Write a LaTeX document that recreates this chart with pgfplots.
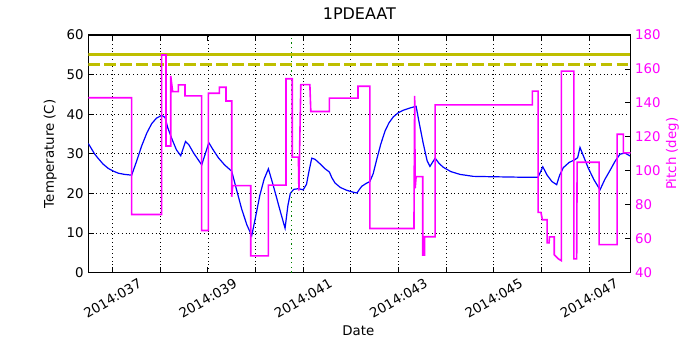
\documentclass[border=0pt]{standalone}
\usepackage{pgfplots}
\pgfplotsset{compat=1.18}
\usepackage{fontspec}
\setmainfont{DejaVu Sans}
\definecolor{mplblue}{rgb}{0,0,1}
\definecolor{mplmag}{rgb}{1,0,1}
\definecolor{mplyel}{rgb}{0.75,0.75,0}
\definecolor{mplgreen}{rgb}{0,0.5,0}

\pgfplotsset{
  common/.style={
    scale only axis, width=406.5pt, height=178.1pt,
    xmin=36.49, xmax=47.87,
    tick align=inside,
    major tick length=4.5pt,
    axis line style={line width=0.8pt},
    every tick/.style={black, line width=0.6pt},
    /pgf/number format/assume math mode=true,
    tick label style={font=\fontsize{10}{12}\selectfont},
    label style={font=\fontsize{10}{12}\selectfont},
  }
}

\begin{document}
\begin{tikzpicture}
\useasboundingbox (-66.2pt,-58.1pt) rectangle (458.6pt,204.35pt);

% temperature (left axis)
\begin{axis}[common,
  ymin=0, ymax=60, ytick={0,10,...,60},
  xtick={37,...,47},
  xticklabels={2014:037,,2014:039,,2014:041,,2014:043,,2014:045,,2014:047},
  xtick pos=both, ytick pos=left,
  grid=major,
  grid style={black, line width=0.5pt, dash pattern=on 0.6pt off 2.2pt},
  xticklabel style={rotate=30, anchor=center},
  xticklabel shift=19.3pt,
  xlabel={Date},
  xlabel style={at={(axis description cs:0.498,-0.246)}, anchor=center},
  ylabel={Temperature (C)},
  ylabel style={at={(axis description cs:-0.0701,0.5)}, anchor=center},
  title={\fontsize{12}{14}\selectfont 1PDEAAT},
  title style={at={(axis description cs:0.5,1.0547)}, anchor=center},
]
\addplot[mplblue, line width=0.9pt] coordinates {
(36.49,32.6) (36.55,31.4) (36.62,30.0) (36.70,28.8) (36.80,27.4) (36.91,26.3)
(37.02,25.6) (37.12,25.1) (37.25,24.8) (37.40,24.6)
(37.50,28.0) (37.61,32.0) (37.72,35.3) (37.82,37.6) (37.92,39.0) (38.03,39.7)
(38.10,39.2) (38.16,36.5) (38.25,33.6) (38.34,31.0) (38.43,29.5) (38.53,33.1)
(38.60,32.3) (38.70,30.2) (38.87,27.2) (39.02,32.8) (39.10,31.2) (39.22,29.0)
(39.35,27.2) (39.50,25.6) (39.60,21.0) (39.71,16.0) (39.82,12.0) (39.92,9.3)
(40.00,14.0) (40.09,19.5) (40.18,23.6) (40.27,26.2) (40.36,22.5) (40.44,19.0)
(40.53,15.0) (40.62,11.2) (40.68,17.0) (40.73,20.0) (40.80,21.0) (40.90,21.2)
(41.00,20.9) (41.07,22.3) (41.12,25.5) (41.18,28.9) (41.25,28.6) (41.35,27.5)
(41.45,26.3) (41.55,25.4) (41.60,24.0) (41.67,22.6) (41.78,21.5) (41.91,20.8)
(42.05,20.3) (42.13,20.1) (42.18,21.0) (42.23,21.8) (42.32,22.5) (42.40,23.0)
(42.47,25.0) (42.54,28.4) (42.63,32.5) (42.72,35.8) (42.80,37.8) (42.89,39.3)
(43.00,40.4) (43.10,41.0) (43.25,41.6) (43.37,42.0) (43.44,37.5) (43.52,32.6)
(43.60,28.3) (43.66,26.8) (43.77,28.9) (43.85,27.6) (43.94,26.6) (44.10,25.5)
(44.29,24.8) (44.57,24.3) (45.00,24.2) (45.50,24.1) (45.93,24.1) (46.03,26.7)
(46.12,24.6) (46.22,23.0) (46.32,22.2) (46.38,24.5) (46.46,26.5) (46.58,27.8)
(46.70,28.5) (46.76,29.0) (46.81,31.6) (46.88,29.5) (46.98,26.5) (47.10,23.5)
(47.23,20.9) (47.33,23.5) (47.44,25.8) (47.55,28.2) (47.65,29.9) (47.75,30.2)
(47.87,29.4)
};
\addplot[mplyel, line width=2.25pt] coordinates {(36.49,55) (47.87,55)};
\addplot[mplyel, line width=2.25pt, dash pattern=on 8.5pt off 3.5pt] coordinates {(36.49,52.5) (47.87,52.5)};
\addplot[mplgreen, line width=1.1pt, dash pattern=on 1pt off 2.5pt] coordinates {(40.76,0) (40.76,60)};
\end{axis}

% pitch (right axis)
\begin{axis}[common,
  axis x line=none, axis y line*=right,
  ymin=40, ymax=180, ytick={40,60,...,180},
  yticklabel style={text=mplmag},
  ylabel={Pitch (deg)},
  ylabel style={text=mplmag, at={(axis description cs:1.0775,0.5)}, anchor=center},
]
\addplot[mplmag, line width=1.2pt] coordinates {
(36.49,143.0) (37.40,143.0) (37.40,74.2) (38.03,74.2) (38.03,168.2) (38.12,168.2)
(38.12,114.6) (38.22,114.6) (38.22,155.9) (38.26,146.6) (38.38,146.6) (38.38,150.6)
(38.52,150.6) (38.52,144.1) (38.87,144.1) (38.87,64.8) (39.01,64.8) (39.01,145.7)
(39.24,145.7) (39.24,149.2) (39.38,149.2) (39.38,141.1) (39.50,141.1) (39.50,84.7)
(39.52,91.2) (39.90,91.2) (39.90,49.8) (40.27,49.8) (40.27,91.5) (40.64,91.5)
(40.64,154.2) (40.77,154.2) (40.77,108.0) (40.90,108.0) (40.91,88.3) (40.95,150.8)
(41.14,150.8) (41.16,134.9) (41.55,134.9) (41.55,142.8) (42.15,142.8) (42.15,149.8)
(42.40,149.8) (42.40,66.0) (43.325,66.0) (43.34,144.1) (43.35,89.6) (43.37,96.5)
(43.51,96.5) (43.51,50.3) (43.55,50.3) (43.55,61.1) (43.77,61.1) (43.77,138.8)
(45.81,138.8) (45.81,146.9) (45.93,146.9) (45.93,75.5) (45.99,75.5) (46.02,71.1)
(46.12,71.1) (46.12,57.5) (46.16,57.5) (46.17,61.0) (46.27,61.0) (46.27,50.5)
(46.36,48.0) (46.42,47.0) (46.42,158.7) (46.68,158.7) (46.68,48.1) (46.74,48.1)
(46.75,105.0) (47.21,105.0) (47.21,56.5) (47.59,56.5) (47.59,121.5) (47.72,121.5)
(47.72,110.5) (47.87,110.5)
};
\end{axis}
\end{tikzpicture}
\end{document}
